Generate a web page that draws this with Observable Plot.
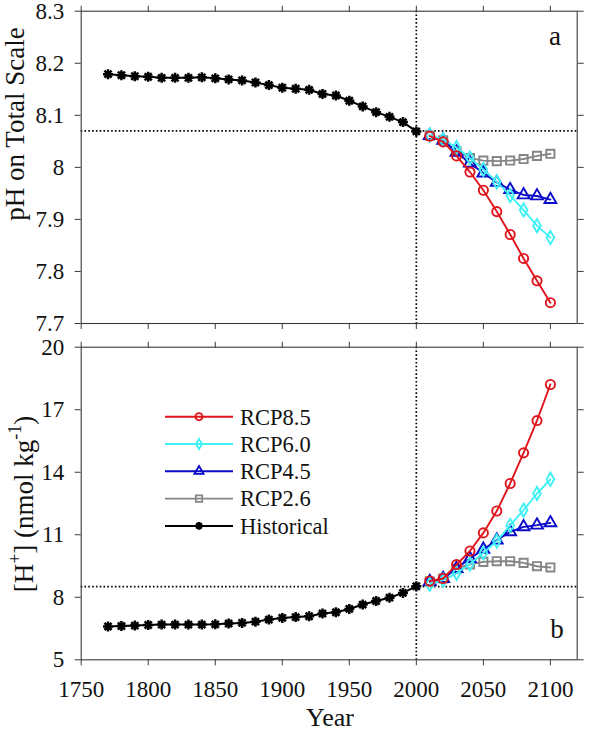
<!DOCTYPE html>
<html><head><meta charset="utf-8">
<script src="https://cdn.jsdelivr.net/npm/d3@7"></script>
<script src="https://cdn.jsdelivr.net/npm/@observablehq/plot@0.6"></script>
<style>
body{margin:0;background:#fff;}
#wrap{position:relative;width:596px;height:733px;overflow:hidden;}
#wrap svg{position:absolute;left:0;overflow:visible;}
#wrap svg text, #wrap svg tspan{font-family:"Liberation Serif","Times New Roman",serif !important;}
</style></head><body><div id="wrap"></div>
<script>
// ---------- data ----------
const yearsHist = [1770,1780,1790,1800,1810,1820,1830,1840,1850,1860,1870,1880,1890,1900,1910,1920,1930,1940,1950,1960,1970,1980,1990,2000];
const phHist = [8.179,8.177,8.175,8.174,8.172,8.172,8.172,8.173,8.171,8.169,8.167,8.163,8.158,8.153,8.151,8.149,8.141,8.138,8.128,8.117,8.106,8.097,8.087,8.069];
const hHist  = [6.60,6.62,6.64,6.67,6.69,6.69,6.69,6.69,6.70,6.74,6.77,6.83,6.93,7.01,7.05,7.09,7.22,7.28,7.44,7.65,7.82,7.98,8.21,8.53];

const yearsFut = [2010,2020,2030,2040,2050,2060,2070,2080,2090,2100];
const ph85 = [8.060,8.049,8.022,7.991,7.956,7.915,7.871,7.825,7.782,7.740];
const ph60 = [8.062,8.053,8.038,8.018,7.996,7.972,7.946,7.918,7.888,7.865];
const ph45 = [8.061,8.052,8.029,8.008,7.989,7.971,7.957,7.947,7.945,7.938];
const ph26 = [8.061,8.052,8.031,8.018,8.013,8.012,8.013,8.016,8.022,8.026];
const h85 = [8.78,8.90,9.57,10.22,11.09,12.14,13.46,14.93,16.48,18.21];
const h60 = [8.62,8.82,9.15,9.60,10.12,10.70,11.45,12.18,12.98,13.66];
const h45 = [8.75,8.90,9.38,9.86,10.30,10.74,11.14,11.38,11.46,11.57];
const h26 = [8.75,8.90,9.38,9.58,9.70,9.73,9.73,9.65,9.49,9.43];

const refPH = 8.07;   // horizontal dotted reference, panel a
const refH = 8.51;    // horizontal dotted reference, panel b
const refYear = 2000; // vertical dotted reference

const xTicks = [1750,1800,1850,1900,1950,2000,2050,2100];
const phTicks = [7.7,7.8,7.9,8.0,8.1,8.2,8.3];
const hTicks = [5,8,11,14,17,20];

const seriesNames = ["RCP8.5","RCP6.0","RCP4.5","RCP2.6","Historical"];

// ---------- styling ----------
const FONT = '"Liberation Serif","Times New Roman",serif';
const asterisk = {draw(ctx, size){
  const r = Math.sqrt(size/Math.PI);
  for (let i=0;i<4;i++){const a=i*Math.PI/4, c=Math.cos(a)*r, s=Math.sin(a)*r;
    ctx.moveTo(c,s); ctx.lineTo(-c,-s);}
}};
const styles = {
  "RCP8.5":{color:"#e0141b", symbol:d3.symbolCircle, r:4.6},
  "RCP6.0":{color:"#3ff0f5", symbol:d3.symbolDiamond, r:4.0},
  "RCP4.5":{color:"#0a0ac8", symbol:d3.symbolTriangle, r:4.4},
  "RCP2.6":{color:"#858585", symbol:d3.symbolSquare, r:4.6},
  "Historical":{color:"#000000", symbol:asterisk, r:5.0}
};

const fut = {
  "RCP8.5":{ph:ph85,h:h85},"RCP6.0":{ph:ph60,h:h60},
  "RCP4.5":{ph:ph45,h:h45},"RCP2.6":{ph:ph26,h:h26}
};
const drawOrder = ["RCP2.6","RCP4.5","RCP6.0","RCP8.5"];

function seriesMarks(key){
  const marks = [];
  const hist = yearsHist.map((y,i)=>({x:y, y: key==="ph"?phHist[i]:hHist[i]}));
  const hs = styles["Historical"];
  marks.push(Plot.line(hist,{x:"x",y:"y",stroke:hs.color,strokeWidth:2}));
  marks.push(Plot.dot(hist,{x:"x",y:"y",symbol:hs.symbol,r:hs.r,stroke:hs.color,fill:hs.color,strokeWidth:2.5}));
  for (const name of drawOrder){
    const s = styles[name];
    const d = yearsFut.map((y,i)=>({x:y,y:fut[name][key][i]}));
    marks.push(Plot.line(d,{x:"x",y:"y",stroke:s.color,strokeWidth:1.9}));
    marks.push(Plot.dot(d,{x:"x",y:"y",symbol:s.symbol,r:s.r,stroke:s.color,fill:"none",strokeWidth:1.9}));
  }
  return marks;
}

function panel({height, marginTop, marginBottom, yDomain, yTicks, ref, key, showX}){
  return Plot.plot({
    width:596, height, marginLeft:80.7, marginRight:19.3, marginTop, marginBottom,
    style:{fontFamily:FONT, fontSize:"23px", color:"#000", background:"transparent", overflow:"visible"},
    x:{domain:[1750,2120]},
    y:{domain:yDomain},
    marks:[
      Plot.ruleX([refYear],{stroke:"#000",strokeWidth:1.7,strokeDasharray:"1.6,2.2"}),
      Plot.ruleY([ref],{stroke:"#000",strokeWidth:1.7,strokeDasharray:"1.6,2.2"}),
      ...seriesMarks(key),
      Plot.frame({stroke:"#3a3a3a",strokeWidth:1.1}),
      Plot.axisY({ticks:yTicks, tickSize:6, tickPadding:11, stroke:"#3a3a3a",
        tickFormat:d=>String(+d.toFixed(1)), label:null, fill:"#111", fontFamily:FONT}),
      Plot.axisY({anchor:"right", ticks:yTicks, tickSize:6, stroke:"#3a3a3a", tickFormat:()=>"", label:null}),
      Plot.axisX({anchor:"top", ticks:xTicks, tickSize:6, stroke:"#3a3a3a", tickFormat:()=>"", label:null}),
      Plot.axisX({anchor:"bottom", ticks:xTicks, tickSize:6, tickPadding:15, stroke:"#3a3a3a",
        tickFormat: showX ? (d=>String(d)) : (()=>""), label:null, fill:"#111", fontFamily:FONT})
    ]
  });
}

const wrap = document.getElementById("wrap");
const svgA = panel({height:335, marginTop:10.7, marginBottom:12, yDomain:[7.7,8.3], yTicks:phTicks, ref:refPH, key:"ph", showX:false});
const svgB = panel({height:398, marginTop:11.7, marginBottom:73.7, yDomain:[5,20], yTicks:hTicks, ref:refH, key:"h", showX:true});
svgA.style.top = "0px"; svgB.style.top = "335px";
wrap.appendChild(svgA); wrap.appendChild(svgB);

// ---------- annotations ----------
const A = d3.select(svgA), B = d3.select(svgB);
A.append("text").attr("transform","translate(24,124) rotate(-90)").attr("text-anchor","middle")
  .attr("font-size",27).attr("fill","#111").text("pH on Total Scale");

const tb = B.append("text").attr("transform","translate(33,169) rotate(-90)").attr("text-anchor","middle")
  .attr("font-size",27).attr("fill","#111");
tb.append("tspan").text("[H");
tb.append("tspan").attr("font-size",18).attr("dy",-12).text("+");
tb.append("tspan").attr("dy",12).text("] (nmol kg");
tb.append("tspan").attr("font-size",18).attr("dy",-12).text("-1");
tb.append("tspan").attr("dy",12).text(")");

B.append("text").attr("x",330).attr("y",391).attr("text-anchor","middle")
  .attr("font-size",26).attr("fill","#111").text("Year");

A.append("text").attr("x",555).attr("y",45).attr("text-anchor","middle")
  .attr("font-size",27).attr("fill","#111").text("a");
B.append("text").attr("x",557).attr("y",303).attr("text-anchor","middle")
  .attr("font-size",27).attr("fill","#111").text("b");

// legend
const lg = B.append("g");
seriesNames.forEach((name,i)=>{
  const s = styles[name];
  const y = 81.7 + i*27.3;
  lg.append("line").attr("x1",165).attr("x2",233).attr("y1",y).attr("y2",y)
    .attr("stroke",s.color).attr("stroke-width",name==="Historical"?2:1.9);
  const rr = s.r*0.78;
  lg.append("path").attr("transform",`translate(199,${y})`)
    .attr("d",d3.symbol(s.symbol, rr*rr*Math.PI)())
    .attr("stroke",s.color).attr("stroke-width",name==="Historical"?2.4:1.8)
    .attr("fill",name==="Historical"?s.color:"none");
  lg.append("text").attr("x",240).attr("y",y).attr("dy","0.35em").attr("text-anchor","start")
    .attr("font-size",22.5).attr("fill","#111").text(name);
});
</script></body></html>
